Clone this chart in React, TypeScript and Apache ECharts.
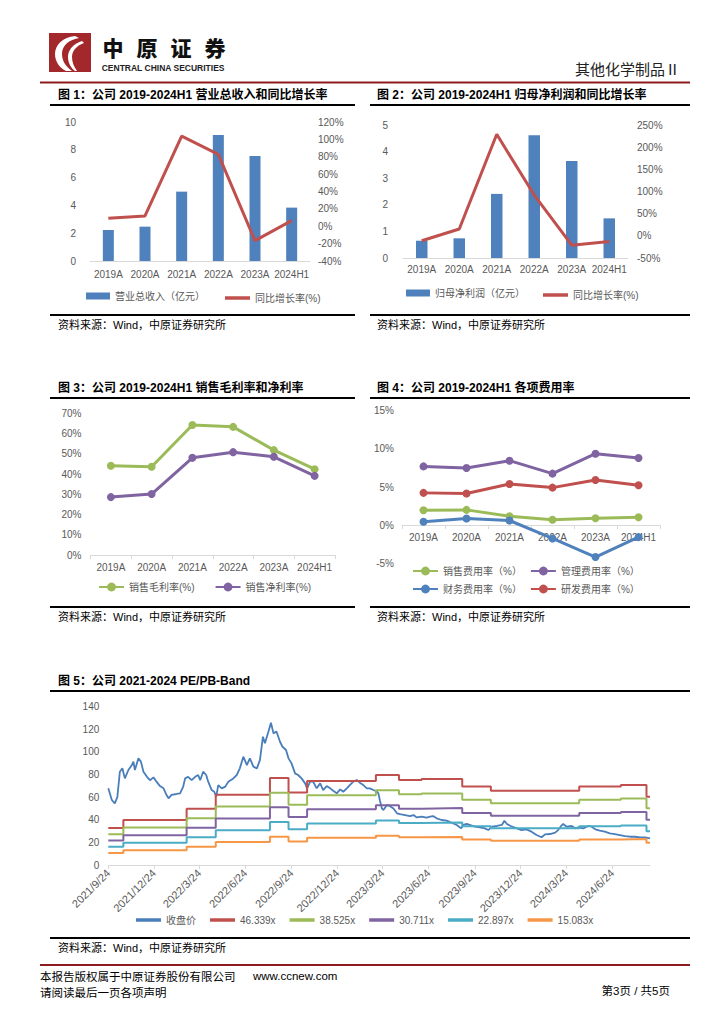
import React, { useEffect, useRef } from "react";
import * as echarts from "echarts";

// ---------------- DATA ----------------
const years = ["2019A", "2020A", "2021A", "2022A", "2023A", "2024H1"];
const revenue = [2.23, 2.47, 4.99, 9.06, 7.55, 3.84];
const revenueYoY = [9.1, 11.8, 103.8, 82.7, -16.6, 6.4];
const netProfit = [0.65, 0.74, 2.41, 4.61, 3.65, 1.49];
const netProfitYoY = [-11, 15.5, 229, 92, -21, -13];
const grossMargin = [44.1, 43.6, 64.2, 63.3, 51.8, 42.4];
const netMargin = [28.6, 30.1, 48.0, 50.8, 48.5, 39.1];
const sellingRate = [1.96, 2.0, 1.17, 0.7, 0.91, 1.04];
const adminRate = [7.7, 7.5, 8.45, 6.75, 9.36, 8.8];
const financeRate = [0.44, 0.87, 0.61, -1.74, -4.18, -1.57];
const rdRate = [4.23, 4.14, 5.4, 4.92, 5.92, 5.22];

const bandTickLabels = [
  "2021/9/24", "2021/12/24", "2022/3/24", "2022/6/24", "2022/9/24", "2022/12/24",
  "2023/3/24", "2023/6/24", "2023/9/24", "2023/12/24", "2024/3/24", "2024/6/24",
];

const priceDates = [
  "2021-09-24", "2021-10-01", "2021-10-07", "2021-10-12", "2021-10-17", "2021-10-22", "2021-10-27",
  "2021-11-03", "2021-11-10", "2021-11-13", "2021-11-16", "2021-11-23", "2021-11-28", "2021-12-03",
  "2021-12-10", "2021-12-16", "2021-12-23", "2021-12-29", "2022-01-05", "2022-01-12", "2022-01-18",
  "2022-01-22", "2022-01-28", "2022-02-07", "2022-02-14", "2022-02-20", "2022-02-24", "2022-03-02",
  "2022-03-09", "2022-03-16", "2022-03-22", "2022-03-26", "2022-04-01", "2022-04-07", "2022-04-11",
  "2022-04-18", "2022-04-23", "2022-04-27", "2022-05-01", "2022-05-08", "2022-05-15", "2022-05-21",
  "2022-05-31", "2022-06-07", "2022-06-13", "2022-06-20", "2022-06-27", "2022-07-03", "2022-07-10",
  "2022-07-17", "2022-07-23", "2022-07-29", "2022-08-02", "2022-08-09", "2022-08-14", "2022-08-19",
  "2022-08-25", "2022-09-01", "2022-09-06", "2022-09-13", "2022-09-18", "2022-09-24", "2022-10-01",
  "2022-10-07", "2022-10-14", "2022-10-21", "2022-10-25", "2022-10-31", "2022-11-06", "2022-11-13",
  "2022-11-20", "2022-11-26", "2022-12-03", "2022-12-10", "2022-12-16", "2022-12-23", "2022-12-30",
  "2023-01-05", "2023-01-12", "2023-01-18", "2023-01-25", "2023-02-01", "2023-02-07", "2023-02-14",
  "2023-02-21", "2023-02-27", "2023-03-06", "2023-03-13", "2023-03-16", "2023-03-19", "2023-03-23",
  "2023-03-26", "2023-04-02", "2023-04-08", "2023-04-15", "2023-04-22", "2023-04-28", "2023-05-08",
  "2023-05-18", "2023-05-25", "2023-05-31", "2023-06-10", "2023-06-20", "2023-06-27", "2023-07-03",
  "2023-07-10", "2023-07-20", "2023-07-30", "2023-08-09", "2023-08-19", "2023-08-28", "2023-09-01",
  "2023-09-08", "2023-09-18", "2023-09-24", "2023-10-04", "2023-10-14", "2023-10-21", "2023-10-28",
  "2023-11-07", "2023-11-17", "2023-11-22", "2023-11-27", "2023-12-07", "2023-12-17", "2023-12-26",
  "2024-01-05", "2024-01-15", "2024-01-25", "2024-02-04", "2024-02-11", "2024-02-21", "2024-03-02",
  "2024-03-08", "2024-03-14", "2024-03-18", "2024-03-25", "2024-04-04", "2024-04-11", "2024-04-17",
  "2024-04-27", "2024-05-07", "2024-05-14", "2024-05-21", "2024-05-30", "2024-06-09", "2024-06-19",
  "2024-06-29", "2024-07-09", "2024-07-19", "2024-07-29", "2024-08-08", "2024-08-18", "2024-08-28",
  "2024-09-07",
];
const priceValues = [
  67.8, 57.5, 54.5, 60, 82.5, 85.5, 76.6,
  84, 88.4, 91.4, 84, 94.3, 91.4, 82.5,
  78, 75, 77.5, 73.7, 69.8, 67.8, 61.9,
  59, 62, 62.8, 63.4, 69, 76.6, 78,
  75, 78, 79.6, 75, 82.5, 79.6, 73.7,
  66.3, 64.8, 60.4, 70.7, 67.8, 69.3, 73.7,
  76.6, 79.6, 85.5, 95.8, 88.4, 94.3, 87,
  85.5, 92.8, 113.5, 107.6, 118, 125.8, 116.4,
  118, 109, 104.6, 101.7, 94.3, 89.9, 81,
  79.6, 76.6, 72.2, 67.8, 73.7, 73.7, 67.8,
  72.2, 66.3, 69.8, 67.8, 65.7, 63.4, 66.9,
  64.8, 67.8, 70.7, 73.7, 75.2, 72.8, 70.7,
  67.8, 67.8, 66.3, 65, 63.4, 57, 50,
  48.6, 53, 52, 50, 45.7, 45, 44.2,
  43.3, 44.2, 42.1, 42.7, 41.8, 42.7, 43.3,
  41.3, 39.8, 39.2, 37.4, 35.4, 32.4, 35.4,
  36.3, 34.8, 33.9, 33.3, 32.4, 30.9, 33.9,
  34.5, 35.4, 39.2, 36.3, 33.9, 32.4, 30.9,
  31.5, 29.5, 26.5, 24.5, 27.1, 27.4, 28.6,
  30.9, 34.5, 36.3, 33.9, 34.5, 32.4, 33.3,
  32.4, 34.5, 33.9, 31.5, 30.4, 29.5, 28,
  27.4, 26.5, 25.6, 25, 25, 24.5, 24.5,
  23.6,
];

// EPS steps behind the PE bands (band = multiple x EPS)
const epsDates = [
  "2021-09-24", "2021-10-24", "2022-02-27", "2022-04-26", "2022-08-12", "2022-09-18", "2022-10-25",
  "2023-03-11", "2023-04-26", "2023-06-10", "2023-08-30", "2023-10-26", "2024-04-19", "2024-07-11",
  "2024-08-31", "2024-09-07",
];
const epsValues = [
  0.706, 0.859, 1.075, 1.342, 1.66, 1.385, 1.603,
  1.718, 1.623, 1.64, 1.496, 1.418, 1.496, 1.526,
  1.303, 1.303,
];
const bandMultiples = [46.339, 38.525, 30.711, 22.897, 15.083];
const bandNames = ["46.339x", "38.525x", "30.711x", "22.897x", "15.083x"];
const bandColors = ["#C0504D", "#9BBB59", "#8064A2", "#4BACC6", "#F79646"];

// ---------------- HELPERS ----------------
const FONT = "'Liberation Sans', 'Noto Sans CJK SC', sans-serif";
const CJK = "'Noto Sans CJK SC', sans-serif";
const LABEL = "#595959";
const AXIS = "#D9D9D9";

const toTime = (s: string) => {
  const [y, m, d] = s.split(/[\/-]/).map(Number);
  return new Date(y, m - 1, d).getTime();
};
const fmtDate = (v: number) => {
  const d = new Date(v);
  return `${d.getFullYear()}/${d.getMonth() + 1}/${d.getDate()}`;
};

const LOGO_D =
  "M26 3 C14 4 6 12 6 21 C6 29 11 35 17 38 L23 38 C16 33 13 27 13 21 C13 13 19 7 30 5 Z " +
  "M33 8 C24 11 19 17 19 24 C19 30 22 35 26 38 L28 38 C25 34 23 29 23 24 C23 18 27 13 35 10 Z";
try {
  echarts.graphic.registerShape("logo", echarts.graphic.extendPath(LOGO_D, {}) as any);
} catch (e) {
  /* ignore */
}

const txt = (text: string, x: number, y: number, size: number, o: any = {}) => ({
  type: "text",
  x,
  y,
  silent: true,
  style: {
    text,
    fontSize: size,
    fontFamily: o.family || FONT,
    fontWeight: o.weight || "normal",
    fill: o.fill || "#000",
    textAlign: o.align || "left",
    textVerticalAlign: "middle",
  },
});
const hline = (x1: number, x2: number, y: number, w: number, color: string) => ({
  type: "line",
  silent: true,
  shape: { x1, y1: y, x2, y2: y },
  style: { stroke: color, lineWidth: w },
});

const lbl = (extra: any = {}) => ({ color: LABEL, fontSize: 10, fontFamily: FONT, ...extra });
const noLine = { show: false };

function catX(grid: number, margin: number, ticks: boolean, offset = 0) {
  return {
    type: "category",
    gridIndex: grid,
    data: years,
    offset,
    axisLine: { onZero: false, lineStyle: { color: AXIS, width: 1 } },
    axisTick: { show: ticks, length: 4, lineStyle: { color: AXIS } },
    axisLabel: lbl({ margin, interval: 0 }),
    splitLine: noLine,
    z: 1,
  };
}
function valY(grid: number, min: number, max: number, interval: number, margin: number, fmt?: string, pos?: string) {
  return {
    type: "value",
    gridIndex: grid,
    position: pos || "left",
    min,
    max,
    interval,
    axisLine: noLine,
    axisTick: noLine,
    splitLine: noLine,
    axisLabel: lbl({ margin, formatter: fmt || "{value}" }),
  };
}

// chart 4 grid geometry (zero line position used for the category axis)
const G4_TOP = 410.7;
const G4_H = 152.6;
const G4_ZERO_OFFSET = -(G4_H * 5) / 20;

export default function App() {
  const ref = useRef<HTMLDivElement>(null);
  useEffect(() => {
    if (!ref.current) return;
    const chart = echarts.init(ref.current, undefined, { renderer: "svg" });

    const priceData = priceDates.map((d, i) => [toTime(d), priceValues[i]]);
    const bandSeries = bandMultiples.map((m, k) => ({
      type: "line",
      name: bandNames[k],
      xAxisIndex: 4,
      yAxisIndex: 6,
      step: "end",
      symbol: "none",
      data: epsDates.map((d, i) => [toTime(d), +(epsValues[i] * m).toFixed(2)]),
      lineStyle: { color: bandColors[k], width: 2 },
      itemStyle: { color: bandColors[k] },
    }));
    const tickTimes = bandTickLabels.map(toTime);

    const lineWithDots = (name: string, data: number[], color: string, xi: number, yi: number) => ({
      type: "line",
      name,
      xAxisIndex: xi,
      yAxisIndex: yi,
      data,
      symbol: "circle",
      symbolSize: 8,
      lineStyle: { color, width: 3 },
      itemStyle: { color },
      z: 3,
    });

    const graphics: any[] = [
      // header
      { type: "rect", silent: true, shape: { x: 49, y: 33, width: 42, height: 39 }, style: { fill: "#A3282C" } },
      { type: "logo", x: 49, y: 33, scaleX: 1, scaleY: 1, silent: true, style: { fill: "#FFFFFF" } },
      ...["中", "原", "证", "券"].map((c, i) =>
        txt(c, 113 + i * 34, 46.5, 21, { family: CJK, weight: 900, align: "center", fill: "#111" })
      ),
      txt("CENTRAL CHINA SECURITIES", 101.7, 67.5, 8.5, { weight: "bold", fill: "#222" }),
      txt("其他化学制品Ⅱ", 680, 68, 15, { family: CJK, align: "right", fill: "#222" }),
      hline(40, 690, 82.5, 2, "#8E1B1F"),
      // section 1 / 2
      txt("图 1：公司 2019-2024H1 营业总收入和同比增长率", 58, 95, 12, { weight: "bold" }),
      hline(50, 355, 105, 2, "#000"),
      hline(50, 355, 315, 2, "#000"),
      txt("资料来源：Wind，中原证券研究所", 58, 325, 11),
      txt("图 2：公司 2019-2024H1 归母净利润和同比增长率", 377, 95, 12, { weight: "bold" }),
      hline(370, 690, 105, 2, "#000"),
      hline(370, 690, 315, 2, "#000"),
      txt("资料来源：Wind，中原证券研究所", 377, 325, 11),
      // section 3 / 4
      txt("图 3：公司 2019-2024H1 销售毛利率和净利率", 58, 388, 12, { weight: "bold" }),
      hline(50, 355, 398, 2, "#000"),
      hline(50, 355, 607, 2, "#000"),
      txt("资料来源：Wind，中原证券研究所", 58, 617, 11),
      txt("图 4：公司 2019-2024H1 各项费用率", 377, 388, 12, { weight: "bold" }),
      hline(370, 690, 398, 2, "#000"),
      hline(370, 690, 607, 2, "#000"),
      txt("资料来源：Wind，中原证券研究所", 377, 617, 11),
      // section 5
      txt("图 5：公司 2021-2024 PE/PB-Band", 58, 681, 12, { weight: "bold" }),
      hline(50, 690, 691, 2, "#000"),
      hline(50, 690, 938, 2, "#000"),
      txt("资料来源：Wind，中原证券研究所", 58, 948, 11),
      // footer
      hline(40, 690, 965, 2, "#8E1B1F"),
      txt("本报告版权属于中原证券股份有限公司", 40, 976, 11.5, { family: CJK }),
      txt("www.ccnew.com", 253, 976, 11.5),
      txt("请阅读最后一页各项声明", 40, 992, 11.5, { family: CJK }),
      txt("第3页 / 共5页", 670, 991, 11.5, { align: "right" }),
    ];

    const legendBase = {
      selectedMode: false,
      orient: "horizontal",
      itemWidth: 25,
      itemHeight: 8,
      textStyle: { color: LABEL, fontSize: 10, fontFamily: FONT },
      padding: 0,
    };
    const lineLegend = (left: number, top: number, names: string[], gap = 12) => ({
      ...legendBase,
      left,
      top,
      itemHeight: 3.5,
      itemGap: gap,
      icon: "rect",
      data: names,
    });

    chart.setOption({
      animation: false,
      backgroundColor: "#FFFFFF",
      textStyle: { fontFamily: FONT },
      grid: [
        { left: 90, top: 122, width: 220, height: 139, outerBoundsMode: "none" },
        { left: 403, top: 125, width: 225, height: 133, outerBoundsMode: "none" },
        { left: 90.5, top: 413.3, width: 244.5, height: 141.7, outerBoundsMode: "none" },
        { left: 402, top: G4_TOP, width: 258, height: G4_H, outerBoundsMode: "none" },
        { left: 108.3, top: 706.7, width: 541.7, height: 158.3, outerBoundsMode: "none" },
      ],
      xAxis: [
        catX(0, 8, false),
        catX(1, 6, false),
        catX(2, 7, true),
        catX(3, 7, true, G4_ZERO_OFFSET),
        {
          type: "value",
          gridIndex: 4,
          min: toTime("2021-09-24"),
          max: toTime("2024-09-07"),
          axisLine: { onZero: false, lineStyle: { color: AXIS } },
          axisTick: { show: true, customValues: tickTimes, length: 4, lineStyle: { color: AXIS } },
          axisLabel: lbl({
            customValues: tickTimes,
            formatter: (v: number) => fmtDate(v),
            rotate: 45,
            margin: 6,
            fontSize: 11,
          }),
          splitLine: noLine,
        },
      ],
      yAxis: [
        valY(0, 0, 10, 2, 14),
        valY(0, -40, 120, 20, 8, "{value}%", "right"),
        valY(1, 0, 5, 1, 15),
        valY(1, -50, 250, 50, 9, "{value}%", "right"),
        valY(2, 0, 70, 10, 9, "{value}%"),
        valY(3, -5, 15, 5, 8, "{value}%"),
        valY(4, 0, 140, 20, 9),
      ],
      legend: [
        {
          ...legendBase,
          left: 86,
          top: 291,
          itemWidth: 24,
          itemHeight: 7,
          icon: "rect",
          data: ["营业总收入（亿元）"],
        },
        lineLegend(225, 293, ["同比增长率(%)"]),
        {
          ...legendBase,
          left: 406,
          top: 288,
          itemWidth: 24,
          itemHeight: 7,
          icon: "rect",
          data: ["归母净利润（亿元）"],
        },
        lineLegend(543, 290, ["同比增长率(%)"]),
        {
          ...legendBase,
          left: 98,
          top: 582,
          itemHeight: 11,
          itemGap: 20,
          data: ["销售毛利率(%)", "销售净利率(%)"],
        },
        {
          ...legendBase,
          left: 412,
          top: 566,
          itemHeight: 11,
          itemGap: 8,
          data: ["销售费用率（%）", "管理费用率（%）"],
        },
        {
          ...legendBase,
          left: 412,
          top: 584,
          itemHeight: 11,
          itemGap: 8,
          data: ["财务费用率（%）", "研发费用率（%）"],
        },
        lineLegend(136, 915, ["收盘价", ...bandNames], 14),
      ],
      graphic: { elements: graphics },
      series: [
        {
          type: "bar",
          name: "营业总收入（亿元）",
          xAxisIndex: 0,
          yAxisIndex: 0,
          data: revenue,
          barWidth: 11,
          itemStyle: { color: "#4F81BD" },
        },
        {
          type: "line",
          name: "同比增长率(%)",
          xAxisIndex: 0,
          yAxisIndex: 1,
          data: revenueYoY,
          symbol: "none",
          lineStyle: { color: "#C0504D", width: 3 },
          itemStyle: { color: "#C0504D" },
        },
        {
          type: "bar",
          name: "归母净利润（亿元）",
          xAxisIndex: 1,
          yAxisIndex: 2,
          data: netProfit,
          barWidth: 11.5,
          itemStyle: { color: "#4F81BD" },
        },
        {
          type: "line",
          name: "同比增长率(%)",
          xAxisIndex: 1,
          yAxisIndex: 3,
          data: netProfitYoY,
          symbol: "none",
          lineStyle: { color: "#C0504D", width: 3 },
          itemStyle: { color: "#C0504D" },
        },
        lineWithDots("销售毛利率(%)", grossMargin, "#9BBB59", 2, 4),
        lineWithDots("销售净利率(%)", netMargin, "#8064A2", 2, 4),
        lineWithDots("销售费用率（%）", sellingRate, "#9BBB59", 3, 5),
        lineWithDots("管理费用率（%）", adminRate, "#8064A2", 3, 5),
        lineWithDots("财务费用率（%）", financeRate, "#4F81BD", 3, 5),
        lineWithDots("研发费用率（%）", rdRate, "#C0504D", 3, 5),
        {
          type: "line",
          name: "收盘价",
          xAxisIndex: 4,
          yAxisIndex: 6,
          data: priceData,
          symbol: "none",
          lineStyle: { color: "#4A7EBB", width: 1.8 },
          itemStyle: { color: "#4A7EBB" },
        },
        ...bandSeries,
      ],
    } as any);

    return () => chart.dispose();
  }, []);

  return (
    <div
      ref={ref}
      style={{ position: "absolute", left: 0, top: 0, width: 724, height: 1024, background: "#fff" }}
    />
  );
}
